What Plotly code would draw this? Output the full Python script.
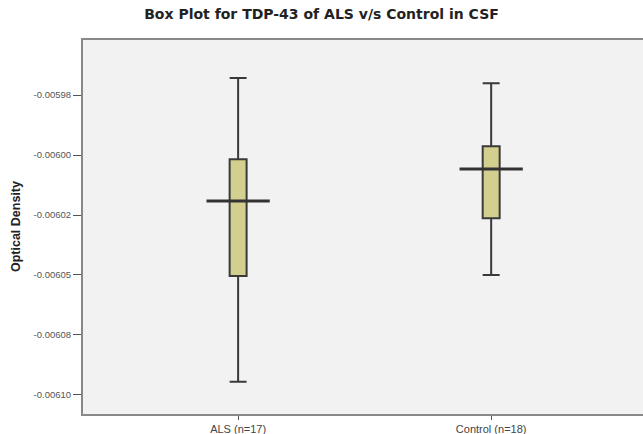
import plotly.graph_objects as go

groups = ["ALS (n=17)", "Control (n=18)"]
whisker_low = [-0.0060946, -0.0060500]
q1 = [-0.0060504, -0.0060263]
median = [-0.0060192, -0.0060058]
q3 = [-0.0060017, -0.0059963]
whisker_high = [-0.0059679, -0.0059700]

tick_vals = [-0.005975, -0.006000, -0.006025, -0.006050, -0.006075, -0.006100]
tick_text = ["-0.00598", "-0.00600", "-0.00602", "-0.00605", "-0.00608", "-0.00610"]

fig = go.Figure()
pos = list(range(len(groups)))
fig.add_trace(go.Box(
    x=pos, q1=q1, median=median, q3=q3,
    lowerfence=whisker_low, upperfence=whisker_high,
    width=0.067, whiskerwidth=1,
    fillcolor="#d3cf8f", line=dict(color="#3a3a3a", width=2),
    boxpoints=False, showlegend=False, hoverinfo="skip",
))

half = 0.125
for i, m in enumerate(median):
    fig.add_trace(go.Scatter(
        x=[pos[i] - half, pos[i] + half], y=[m, m], mode="lines",
        line=dict(color="#333333", width=3), showlegend=False, hoverinfo="skip",
    ))

fig.update_layout(
    width=643, height=434,
    margin=dict(l=83, r=0, t=40, b=20),
    paper_bgcolor="white", plot_bgcolor="#f2f2f2",
    title=dict(text="<b>Box Plot for TDP-43 of ALS v/s Control in CSF</b>",
               x=0.5, xref="container", y=0.968, yref="container",
               xanchor="center", yanchor="middle",
               font=dict(family="DejaVu Sans", size=14, color="#222")),
    font=dict(family="Liberation Sans, Arial"),
)
fig.update_xaxes(
    range=[-0.613, 1.6], tickvals=pos, ticktext=groups,
    ticks="outside", ticklen=4, tickcolor="#555", tickwidth=1,
    showline=True, linecolor="#888", linewidth=2, mirror=True,
    showgrid=False, zeroline=False,
    tickfont=dict(size=11, color="#444"),
)
fig.update_yaxes(
    range=[-0.006108, -0.005952], tickvals=tick_vals, ticktext=tick_text,
    ticks="outside", ticklen=8, tickcolor="#555", tickwidth=1,
    showline=True, linecolor="#888", linewidth=2,
    showgrid=False, zeroline=False,
    tickfont=dict(size=9.5, color="#555"),
)
fig.add_annotation(
    text="<b>Optical Density</b>", textangle=-90,
    xref="paper", yref="paper", x=-0.1196, y=0.5,
    xanchor="center", yanchor="middle", showarrow=False,
    font=dict(size=12.5, color="#222"),
)
fig.write_html("out.html")
